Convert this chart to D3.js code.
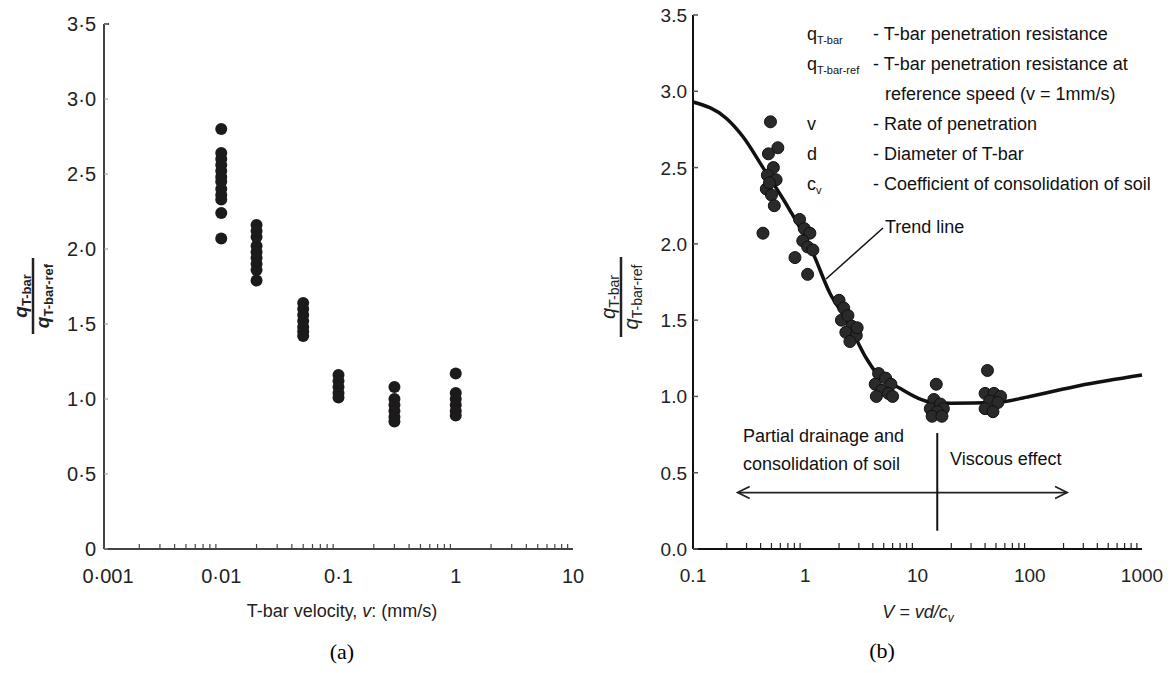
<!DOCTYPE html>
<html>
<head>
<meta charset="utf-8">
<script src="https://cdn.jsdelivr.net/npm/d3@7"></script>
<style>
  body { margin: 0; background: #fff; }
  svg { display: block; }
  .narrow { font-family: "Liberation Sans Narrow", "Arial Narrow", "Liberation Sans", sans-serif; }
</style>
</head>
<body>
<svg id="chart" width="1176" height="673"></svg>
<script>
// ---- data, panel (a) ----
const velA = [0.01, 0.02, 0.05, 0.1, 0.3, 1];
const ratioA = [
  [2.80, 2.64, 2.60, 2.56, 2.52, 2.48, 2.45, 2.40, 2.36, 2.33, 2.24, 2.07],
  [2.16, 2.12, 2.08, 2.02, 1.98, 1.94, 1.90, 1.86, 1.79],
  [1.64, 1.60, 1.56, 1.52, 1.48, 1.45, 1.42],
  [1.16, 1.12, 1.08, 1.04, 1.01],
  [1.08, 1.00, 0.96, 0.92, 0.88, 0.85],
  [1.17, 1.04, 1.00, 0.96, 0.92, 0.89]
];
const yTicksA = [0, 0.5, 1, 1.5, 2, 2.5, 3, 3.5];
const xTicksA = [0.001, 0.01, 0.1, 1, 10];

// ---- data, panel (b) ----
const pointsB = [
  [0.49, 2.80], [0.42, 2.07], [0.57, 2.63], [0.47, 2.59], [0.52, 2.50], [0.46, 2.45],
  [0.55, 2.42], [0.45, 2.36], [0.50, 2.32], [0.53, 2.25], [0.48, 2.40],
  [0.89, 2.16], [0.98, 2.10], [1.10, 2.07], [0.95, 2.02], [1.05, 1.98], [1.17, 1.96],
  [0.81, 1.91], [1.05, 1.80],
  [2.00, 1.63], [2.20, 1.58], [2.10, 1.50], [2.40, 1.53], [2.60, 1.46], [2.30, 1.42],
  [2.85, 1.40], [2.50, 1.36], [2.90, 1.45],
  [4.50, 1.15], [5.20, 1.12], [4.20, 1.08], [5.80, 1.08], [4.80, 1.04], [5.50, 1.02],
  [4.30, 1.00], [6.00, 1.00],
  [14.7, 1.08], [14.0, 0.98], [16.0, 0.95], [13.0, 0.92], [17.0, 0.92], [15.0, 0.90],
  [13.5, 0.87], [16.5, 0.87],
  [42, 1.17], [40, 1.02], [48, 1.02], [55, 1.00], [44, 0.97], [52, 0.96], [40, 0.92], [47, 0.90]
];
const trendV = [0.1, 0.2, 0.28, 0.42, 0.73, 1.17, 1.65, 2.34, 3.5, 4.33, 6.9, 10, 13.6, 20, 50, 100, 275, 1000];
const trendQ = [2.93, 2.82, 2.70, 2.50, 2.22, 1.94, 1.68, 1.50, 1.25, 1.15, 1.055, 0.99, 0.96, 0.955, 0.96, 1.0, 1.07, 1.14];
const yTicksB = [0, 0.5, 1, 1.5, 2, 2.5, 3, 3.5];
const xTicksB = [0.1, 1, 10, 100, 1000];
const legendB = [
  ["q", "T-bar", "- T-bar penetration resistance"],
  ["q", "T-bar-ref", "- T-bar penetration resistance at"],
  ["", "", "reference speed (v = 1mm/s)"],
  ["v", "", "- Rate of penetration"],
  ["d", "", "- Diameter of T-bar"],
  ["c", "v", "- Coefficient of consolidation of soil"]
];

const svg = d3.select('#chart');
svg.append('rect').attr('width', 1176).attr('height', 673).attr('fill', '#fff');

function minorTicks(lo, hi) {
  const out = [];
  for (let d = lo; d < hi; d *= 10) {
    for (let k = 2; k <= 9; k++) out.push(d * k);
  }
  return out;
}

// ================= panel (a) =================
const xA = d3.scaleLog().domain([0.001, 10]).range([104, 573]);
const yA = d3.scaleLinear().domain([0, 3.5]).range([549, 24]);

const gA = svg.append('g').attr('class', 'narrow');

// axis lines
gA.append('line').attr('x1', xA(0.001)).attr('x2', xA(0.001))
  .attr('y1', yA(3.5)).attr('y2', yA(0)).attr('stroke', '#444').attr('stroke-width', 2);
gA.append('line').attr('x1', xA(0.001)).attr('x2', xA(10))
  .attr('y1', yA(0)).attr('y2', yA(0)).attr('stroke', '#444').attr('stroke-width', 2);
gA.append('line').attr('x1', xA(0.001)).attr('x2', xA(0.001) + 5)
  .attr('y1', yA(3.5)).attr('y2', yA(3.5)).attr('stroke', '#444').attr('stroke-width', 2);

// y ticks and labels
gA.selectAll('.yt').data(yTicksA).enter().append('line')
  .attr('x1', xA(0.001)).attr('x2', xA(0.001) + 4)
  .attr('y1', d => yA(d)).attr('y2', d => yA(d))
  .attr('stroke', '#999').attr('stroke-width', 1);
gA.selectAll('.yl').data(yTicksA).enter().append('text')
  .attr('x', xA(0.001) - 8).attr('y', d => yA(d) + 7)
  .attr('text-anchor', 'end').attr('font-size', 20).attr('fill', '#222')
  .text(d => d === 0 ? '0' : d3.format('.1f')(d).replace('.', '\u00b7'));

// x minor ticks
gA.selectAll('.xt').data(minorTicks(0.001, 10)).enter().append('line')
  .attr('x1', d => xA(d)).attr('x2', d => xA(d))
  .attr('y1', yA(0)).attr('y2', yA(0) - 5)
  .attr('stroke', '#444').attr('stroke-width', 1.2);
gA.selectAll('.xl').data(xTicksA).enter().append('text')
  .attr('x', (d, i) => i === 0 ? xA(d) + 4 : xA(d))
  .attr('y', 583).attr('text-anchor', 'middle').attr('font-size', 20).attr('fill', '#222')
  .text(d => String(d).replace('.', '\u00b7'));

// x title
const tA = gA.append('text').attr('x', 342).attr('y', 617).attr('text-anchor', 'middle')
  .attr('font-size', 18).attr('fill', '#222');
tA.append('tspan').text('T-bar velocity, ');
tA.append('tspan').attr('font-style', 'italic').text('v');
tA.append('tspan').text(': (mm/s)');

// y title (fraction)
function fracLabel(g, cx, cy, opts) {
  const f = g.append('g').attr('transform', `translate(${cx},${cy}) rotate(-90)`);
  const num = f.append('text').attr('x', 0).attr('y', opts.numY).attr('text-anchor', 'middle')
    .attr('font-size', opts.size).attr('font-weight', opts.weight).attr('fill', '#222');
  num.append('tspan').attr('font-style', 'italic').text('q');
  num.append('tspan').attr('font-size', opts.sub).attr('dy', 4).text('T-bar');
  f.append('line').attr('x1', -opts.bar).attr('x2', opts.bar).attr('y1', 0).attr('y2', 0)
    .attr('stroke', '#222').attr('stroke-width', 2.5);
  const den = f.append('text').attr('x', 0).attr('y', opts.denY).attr('text-anchor', 'middle')
    .attr('font-size', opts.size).attr('font-weight', opts.weight).attr('fill', '#222');
  den.append('tspan').attr('font-style', 'italic').text('q');
  den.append('tspan').attr('font-size', opts.sub).attr('dy', 4).text('T-bar-ref');
}
fracLabel(gA, 33, 296, { size: 19, sub: 13, weight: 'bold', numY: -6, denY: 16, bar: 38 });

// dots
const dotsA = [];
velA.forEach((v, i) => ratioA[i].forEach(r => dotsA.push([v, r])));
gA.selectAll('.dot').data(dotsA).enter().append('circle')
  .attr('cx', d => xA(d[0])).attr('cy', d => yA(d[1])).attr('r', 6)
  .attr('fill', '#1c1a1a');

svg.append('text').attr('x', 342).attr('y', 659).attr('text-anchor', 'middle')
  .attr('font-family', '"Liberation Serif", "Times New Roman", serif').attr('font-size', 22)
  .text('(a)');

// ================= panel (b) =================
const xB = d3.scaleLog().domain([0.1, 1000]).range([693, 1142]);
const yB = d3.scaleLinear().domain([0, 3.5]).range([549, 15]);

const gB = svg.append('g').attr('class', 'narrow');

gB.append('line').attr('x1', xB(0.1)).attr('x2', xB(0.1))
  .attr('y1', yB(3.5)).attr('y2', yB(0)).attr('stroke', '#111').attr('stroke-width', 2);
gB.append('line').attr('x1', xB(0.1)).attr('x2', xB(1000))
  .attr('y1', yB(0)).attr('y2', yB(0)).attr('stroke', '#111').attr('stroke-width', 2);

gB.selectAll('.yt').data(yTicksB).enter().append('line')
  .attr('x1', xB(0.1)).attr('x2', xB(0.1) + 5)
  .attr('y1', d => yB(d)).attr('y2', d => yB(d))
  .attr('stroke', '#555').attr('stroke-width', 1.5);
gB.selectAll('.yl').data(yTicksB).enter().append('text')
  .attr('x', xB(0.1) - 6).attr('y', d => yB(d) + 7)
  .attr('text-anchor', 'end').attr('font-size', 19).attr('fill', '#222')
  .text(d => d3.format('.1f')(d));

gB.selectAll('.xt').data(minorTicks(0.1, 1000)).enter().append('line')
  .attr('x1', d => xB(d)).attr('x2', d => xB(d))
  .attr('y1', yB(0)).attr('y2', yB(0) - 6)
  .attr('stroke', '#222').attr('stroke-width', 1.2);
gB.selectAll('.xl').data(xTicksB).enter().append('text')
  .attr('x', d => xB(d)).attr('y', 582).attr('text-anchor', 'middle')
  .attr('font-size', 19).attr('fill', '#222')
  .text(d => String(d));

const tB = gB.append('text').attr('x', 918).attr('y', 618).attr('text-anchor', 'middle')
  .attr('font-size', 18).attr('font-style', 'italic').attr('fill', '#222');
tB.append('tspan').text('V = vd/c');
tB.append('tspan').attr('font-size', 12).attr('dy', 4).text('v');

fracLabel(gB, 621, 297, { size: 20, sub: 14, weight: 'normal', numY: -6, denY: 17, bar: 40 });

// trend line
const line = d3.line().x(d => xB(d[0])).y(d => yB(d[1])).curve(d3.curveMonotoneX);
gB.append('path').datum(trendV.map((v, i) => [v, trendQ[i]]))
  .attr('d', line).attr('fill', 'none').attr('stroke', '#111').attr('stroke-width', 3.5);

// dots
gB.selectAll('.dot').data(pointsB).enter().append('circle')
  .attr('cx', d => xB(d[0])).attr('cy', d => yB(d[1])).attr('r', 6)
  .attr('fill', '#2a2a2a').attr('stroke', '#111').attr('stroke-width', 1);

// legend
const lg = gB.append('g').attr('font-size', 18).attr('fill', '#111');
legendB.forEach((row, i) => {
  const y = 40 + i * 30;
  if (row[0]) {
    const s = lg.append('text').attr('x', 807).attr('y', y);
    s.append('tspan').text(row[0]);
    if (row[1]) s.append('tspan').attr('font-size', 11).attr('dy', 4).text(row[1]);
  }
  lg.append('text').attr('x', row[2].startsWith('-') ? 873 : 885).attr('y', y).text(row[2]);
});
lg.append('text').attr('x', 885).attr('y', 233).text('Trend line');
gB.append('line').attr('x1', 883).attr('y1', 228).attr('x2', 826).attr('y2', 279)
  .attr('stroke', '#111').attr('stroke-width', 1.5);

// annotations
const ann = gB.append('g').attr('font-size', 18).attr('fill', '#111');
ann.append('text').attr('x', 743).attr('y', 442).text('Partial drainage and');
ann.append('text').attr('x', 743).attr('y', 470).text('consolidation of soil');
ann.append('text').attr('x', 950).attr('y', 465).text('Viscous effect');

const arrowY = yB(0.37);
const ax1 = xB(0.25), ax2 = xB(215);
gB.append('line').attr('x1', ax1).attr('x2', ax2).attr('y1', arrowY).attr('y2', arrowY)
  .attr('stroke', '#222').attr('stroke-width', 1.8);
gB.append('path').attr('d', `M${ax1 + 12},${arrowY - 6} L${ax1},${arrowY} L${ax1 + 12},${arrowY + 6}`)
  .attr('fill', 'none').attr('stroke', '#222').attr('stroke-width', 1.8);
gB.append('path').attr('d', `M${ax2 - 12},${arrowY - 6} L${ax2},${arrowY} L${ax2 - 12},${arrowY + 6}`)
  .attr('fill', 'none').attr('stroke', '#222').attr('stroke-width', 1.8);
gB.append('line').attr('x1', xB(15)).attr('x2', xB(15)).attr('y1', yB(0.76)).attr('y2', yB(0.12))
  .attr('stroke', '#111').attr('stroke-width', 2);

svg.append('text').attr('x', 882).attr('y', 658).attr('text-anchor', 'middle')
  .attr('font-family', '"Liberation Serif", "Times New Roman", serif').attr('font-size', 22)
  .text('(b)');
</script>
</body>
</html>
